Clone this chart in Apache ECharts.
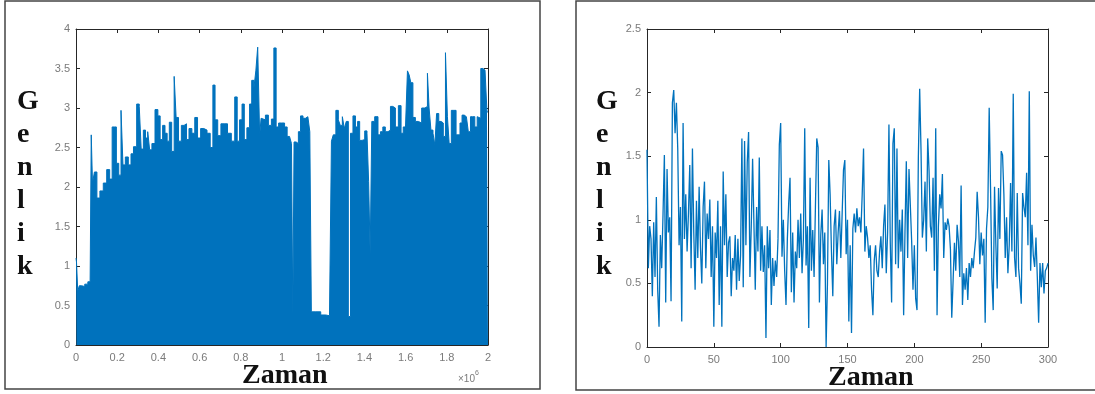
<!DOCTYPE html>
<html>
<head>
<meta charset="utf-8">
<script src="https://cdn.jsdelivr.net/npm/echarts@6/dist/echarts.min.js"></script>
<style>
  html, body { margin: 0; padding: 0; background: #fff; }
  #chart { width: 1095px; height: 394px; }
</style>
</head>
<body>
<div id="chart"></div>
<script>
  // left panel: envelope of the dense signal (x in units of 10^6)
  const leftX = [
    0.000, 0.005, 0.012, 0.020, 0.035, 0.050, 0.065, 0.072,
    0.076, 0.084, 0.095, 0.108, 0.124, 0.141, 0.157, 0.170, 0.181, 0.191,
    0.201, 0.214, 0.223, 0.233, 0.246, 0.262, 0.272, 0.286, 0.303, 0.311,
    0.322, 0.332, 0.343, 0.353, 0.362, 0.375, 0.392, 0.403, 0.414, 0.427,
    0.437, 0.448, 0.458, 0.471, 0.482, 0.490, 0.505, 0.518, 0.531, 0.542,
    0.555, 0.570, 0.583, 0.597, 0.613, 0.628, 0.644, 0.659, 0.670, 0.680,
    0.696, 0.711, 0.727, 0.744, 0.764, 0.777, 0.788, 0.800, 0.812, 0.822,
    0.837, 0.848, 0.858, 0.869, 0.877, 0.887, 0.896,
    0.901, 0.913, 0.926, 0.942, 0.955, 0.966, 0.977, 0.990, 1.006, 1.019,
    1.031, 1.042, 1.050, 1.055, 1.062, 1.075, 1.084, 1.096, 1.108, 1.120,
    1.131, 1.139, 1.146, 1.176, 1.200, 1.225, 1.236, 1.244, 1.254, 1.269,
    1.278, 1.288, 1.298, 1.307, 1.317, 1.327, 1.338, 1.351, 1.362, 1.372,
    1.382, 1.395, 1.408, 1.417, 1.424, 1.432, 1.440, 1.460, 1.472, 1.484,
    1.495, 1.508, 1.521, 1.532, 1.544, 1.557, 1.573, 1.583, 1.594, 1.605,
    1.613, 1.621, 1.630, 1.641, 1.654, 1.670, 1.686, 1.702, 1.710, 1.718,
    1.728, 1.738, 1.746, 1.755, 1.767, 1.778, 1.788, 1.799, 1.807, 1.816,
    1.828, 1.840, 1.850, 1.859, 1.869, 1.879, 1.890, 1.900, 1.909, 1.921,
    1.930, 1.942, 1.953, 1.961, 1.969, 1.981, 1.990, 2.000
  ];
  const leftY = [
    1.10, 1.05, 0.68, 0.75, 0.74, 0.77, 0.80, 0.82,
    2.66, 2.05, 2.19, 1.86, 1.95, 2.05, 2.22, 2.10, 2.76, 2.76,
    2.30, 2.15, 2.97, 2.28, 2.38, 2.28, 2.42, 2.51, 3.05, 3.02,
    2.48, 2.72, 2.62, 2.70, 2.47, 2.55, 2.98, 2.90, 2.60, 2.78,
    2.68, 2.58, 2.82, 2.45, 3.40, 2.88, 2.58, 2.78, 2.80, 2.60,
    2.74, 2.68, 2.88, 2.62, 2.74, 2.72, 2.68, 2.50, 3.29, 2.85,
    2.65, 2.80, 2.80, 2.68, 2.58, 3.14, 2.58, 2.85, 3.05, 2.60,
    2.75, 3.05, 3.35, 3.25, 3.47, 3.77, 2.65,
    2.87, 2.85, 2.91, 2.78, 2.86, 3.76, 2.76, 2.81, 2.81, 2.76,
    2.64, 2.62, 2.55, 0.36, 2.57, 2.55, 2.70, 2.90, 2.87, 2.89,
    2.89, 2.70, 0.42, 0.42, 0.38, 0.37, 0.37, 2.58, 2.66, 2.97,
    2.85, 2.78, 2.89, 2.74, 2.83, 0.36, 2.68, 2.90, 2.76, 2.83,
    2.59, 2.60, 2.71, 2.68, 2.07, 1.14, 2.83, 2.89, 2.66, 2.70,
    2.76, 2.70, 2.72, 3.02, 3.00, 2.76, 3.03, 2.68, 2.76, 2.76,
    3.47, 3.42, 3.32, 2.88, 2.83, 2.81, 3.00, 3.02, 3.44, 3.00,
    2.72, 2.68, 2.53, 2.93, 2.83, 2.81, 2.64, 3.70, 2.89, 2.55,
    2.97, 2.97, 2.66, 2.66, 2.81, 2.91, 2.89, 2.89, 2.70, 2.89,
    2.89, 2.76, 2.89, 2.87, 3.50, 3.48, 3.46, 2.95
  ];

  // right panel: 301 samples, x = sample index
  const rightY = [
    1.55, 0.62, 0.95, 0.85, 0.40, 0.98, 0.55, 1.18, 0.45, 0.16, 0.88, 0.62, 1.05, 1.51, 0.35, 1.40, 0.90, 1.02, 0.36, 1.92,
    2.02, 1.68, 1.92, 1.56, 0.80, 1.10, 0.20, 1.76, 0.85, 1.20, 0.75, 1.05, 1.43, 0.62, 1.56, 0.90, 0.45, 1.15, 0.70, 1.26,
    0.78, 0.50, 1.10, 1.30, 0.62, 1.05, 0.85, 1.16, 0.55, 0.95, 0.16, 0.90, 0.70, 1.15, 0.33, 0.95, 0.16, 1.38, 0.80, 1.20,
    0.55, 0.82, 0.87, 0.40, 0.70, 0.60, 0.88, 0.45, 0.85, 0.52, 0.72, 1.64, 0.47, 1.62, 0.80, 1.45, 1.69, 0.55, 0.95, 1.48,
    1.49, 0.45, 1.10, 0.75, 1.49, 0.60, 0.95, 0.59, 0.80, 0.07, 0.95, 0.62, 0.92, 0.33, 0.70, 0.48, 0.68, 0.55, 0.85, 1.59,
    1.76, 0.71, 1.00, 0.60, 0.33, 0.85, 1.13, 1.33, 0.43, 0.90, 0.35, 0.75, 0.62, 1.00, 0.70, 1.05, 0.58, 0.85, 1.72, 0.64,
    0.95, 0.15, 1.33, 0.60, 0.92, 0.55, 1.10, 1.64, 1.57, 0.35, 0.88, 1.08, 0.65, 0.90, 0.00, 0.50, 1.47, 1.20, 0.75, 0.40,
    0.95, 1.08, 0.65, 0.90, 1.07, 0.70, 1.05, 1.39, 1.47, 0.73, 1.00, 0.20, 0.80, 0.11, 0.93, 1.05, 0.90, 1.09, 0.95, 1.02,
    0.90, 1.20, 1.56, 0.75, 0.95, 0.86, 0.70, 0.80, 0.45, 0.25, 0.68, 0.80, 0.60, 0.55, 0.75, 0.87, 0.62, 0.95, 1.12, 0.58,
    0.90, 1.75, 0.82, 0.35, 1.60, 1.72, 0.65, 1.56, 0.62, 1.00, 0.75, 1.08, 0.25, 0.90, 1.46, 0.70, 1.40, 1.39, 0.83, 0.45,
    0.80, 0.38, 0.29, 1.49, 2.03, 1.55, 0.86, 1.00, 1.30, 0.75, 1.64, 1.39, 0.95, 0.86, 1.33, 0.60, 1.72, 0.25, 0.95, 1.20,
    1.09, 1.36, 0.70, 0.98, 0.92, 1.01, 0.95, 0.77, 0.23, 0.52, 0.82, 0.60, 0.96, 0.83, 0.55, 1.27, 0.33, 0.58, 0.45, 0.62,
    0.37, 0.66, 0.55, 0.70, 0.62, 0.75, 0.86, 1.22, 1.02, 0.65, 0.90, 0.72, 0.85, 0.19, 0.93, 1.10, 1.88, 1.26, 0.54, 0.29,
    1.26, 0.80, 0.46, 1.25, 0.85, 1.54, 1.51, 1.20, 0.70, 1.02, 0.58, 0.80, 1.29, 0.75, 1.99, 0.70, 0.55, 1.21, 0.62, 0.50,
    0.34, 1.21, 1.10, 1.02, 1.37, 0.80, 2.01, 0.60, 0.96, 0.72, 0.63, 0.86, 0.55, 0.19, 0.66, 0.47, 0.66, 0.42, 0.60, 0.62,
    0.66
  ];

  const blue = '#0072BD';
  const axisColor = '#262626';
  const labelColor = '#7a7a7a';

  let chart = echarts.init(document.getElementById('chart'));

  function mainX(gridIndex, min, max, interval, fmt){
    return {
      type: 'value', gridIndex: gridIndex, position: 'bottom',
      min: min, max: max, interval: interval,
      axisLine: { onZero: false, lineStyle: { color: axisColor, width: 1 } },
      axisTick: { inside: true, length: 4, lineStyle: { color: axisColor } },
      axisLabel: { color: labelColor, fontSize: 11, margin: 7, fontFamily: 'Liberation Sans', formatter: fmt },
      splitLine: { show: false }
    };
  }
  function sideAxis(gridIndex, pos, min, max, interval){
    return {
      type: 'value', gridIndex: gridIndex, position: pos,
      min: min, max: max, interval: interval,
      axisLine: { show: true, onZero: false, lineStyle: { color: axisColor, width: 1 } },
      axisTick: { show: true, inside: true, length: 4, lineStyle: { color: axisColor } },
      axisLabel: { show: false },
      splitLine: { show: false }
    };
  }
  function mainY(gridIndex, min, max, interval){
    return {
      type: 'value', gridIndex: gridIndex, position: 'left',
      min: min, max: max, interval: interval,
      axisLine: { show: true, onZero: false, lineStyle: { color: axisColor, width: 1 } },
      axisTick: { show: true, inside: true, length: 4, lineStyle: { color: axisColor } },
      axisLabel: { color: labelColor, fontSize: 11, margin: 6, fontFamily: 'Liberation Sans' },
      splitLine: { show: false }
    };
  }

  // each envelope sample covers the span up to the midpoints with its neighbours
  let leftData = [];
  leftX.forEach((x, i) => {
    let x0 = i == 0 ? x : (leftX[i - 1] + x) / 2;
    let x1 = i == leftX.length - 1 ? x : (x + leftX[i + 1]) / 2;
    leftData.push([x0, leftY[i]], [x1, leftY[i]]);
  });
  let rightData = rightY.map((v, i) => [i, v]);

  const serifFont = 'bold 28px "Liberation Serif", serif';

  let option = {
    animation: false,
    backgroundColor: '#fff',
    grid: [
      { left: 76, top: 29, width: 412, height: 316 },
      { left: 647, top: 29, width: 401, height: 318 }
    ],
    xAxis: [
      mainX(0, 0, 2, 0.2, v => String(Math.round(v * 10) / 10)),
      sideAxis(0, 'top', 0, 2, 0.2),
      mainX(1, 0, 300, 50),
      sideAxis(1, 'top', 0, 300, 50)
    ],
    yAxis: [
      mainY(0, 0, 4, 0.5),
      sideAxis(0, 'right', 0, 4, 0.5),
      mainY(1, 0, 2.5, 0.5),
      sideAxis(1, 'right', 0, 2.5, 0.5)
    ],
    series: [
      {
        type: 'line', xAxisIndex: 0, yAxisIndex: 0,
        data: leftData, symbol: 'none',
        lineStyle: { color: blue, width: 1 },
        areaStyle: { color: blue, opacity: 1 }
      },
      {
        type: 'line', xAxisIndex: 2, yAxisIndex: 2,
        data: rightData, symbol: 'none',
        lineStyle: { color: blue, width: 1.3 }
      }
    ],
    graphic: [
      { type: 'rect', shape: { x: 5, y: 1, width: 535, height: 388 },
        style: { fill: 'none', stroke: '#444', lineWidth: 1.5 }, silent: true },
      { type: 'rect', shape: { x: 576, y: 1, width: 530, height: 389 },
        style: { fill: 'none', stroke: '#444', lineWidth: 1.5 }, silent: true },
      { type: 'text', left: 17, top: 85,
        style: { text: 'G\ne\nn\nl\ni\nk', font: serifFont, lineHeight: 33, fill: '#111', align: 'center' } },
      { type: 'text', left: 596, top: 85,
        style: { text: 'G\ne\nn\nl\ni\nk', font: serifFont, lineHeight: 33, fill: '#111', align: 'center' } },
      { type: 'text', left: 242, top: 362,
        style: { text: 'Zaman', font: serifFont, fill: '#111' } },
      { type: 'text', left: 828, top: 364,
        style: { text: 'Zaman', font: serifFont, fill: '#111' } },
      { type: 'text', left: 458, top: 370,
        style: {
          text: '{a|×10}{b|6}',
          rich: {
            a: { fontSize: 10, fill: labelColor, fontFamily: 'Liberation Sans', verticalAlign: 'bottom' },
            b: { fontSize: 7, fill: labelColor, fontFamily: 'Liberation Sans', verticalAlign: 'top', padding: [0, 0, 7, 0] }
          }
        } }
    ]
  };
  chart.setOption(option);
</script>
</body>
</html>
